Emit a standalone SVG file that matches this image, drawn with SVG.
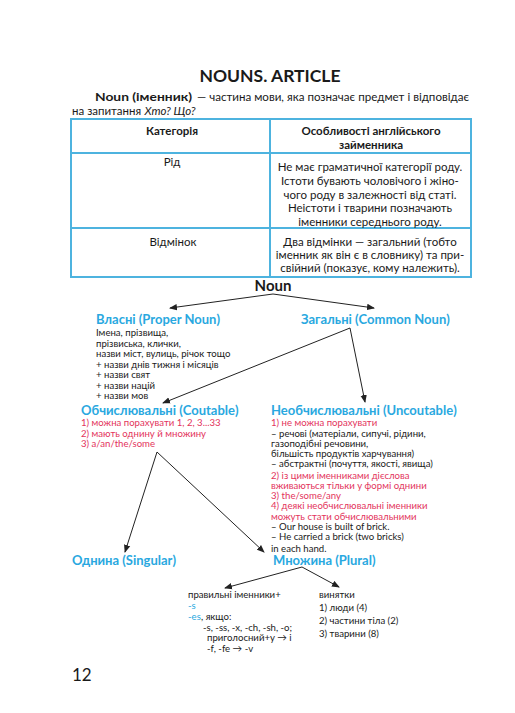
<svg xmlns="http://www.w3.org/2000/svg" width="515" height="713" viewBox="0 0 515 713">
<defs>
<marker id="ah" markerWidth="8" markerHeight="8" refX="7" refY="4" orient="auto" markerUnits="userSpaceOnUse">
<path d="M0,0.8 L8,4 L0,7.2 Z" fill="#222"/>
</marker>
<style>
text{font-family:Lato,"Open Sans","Noto Sans",sans-serif;fill:#1a1a1a}
.title{font-size:17.5px;font-weight:bold}
.b{font-weight:bold}
.p{font-size:11.5px}
.tb{font-size:11.5px}
.th{font-size:11.5px;font-weight:bold}
.hd{font-size:13px;font-weight:bold;fill:#29a8e0}
.s{font-size:9.6px}
.r{fill:#e3345c}
.bl{fill:#29a8e0}
.c{text-anchor:middle}
.cell{fill:none;stroke:#4db3df;stroke-width:2}
.con{stroke:#222;stroke-width:1;fill:none;marker-end:url(#ah)}
</style>
</defs>
<rect width="515" height="713" fill="#fff"/>
<g id="header">
<text class="title c" x="270" y="82">NOUNS. ARTICLE</text>
<text class="p b" x="95" y="100.5" font-size="12.5" textLength="97" lengthAdjust="spacingAndGlyphs">Noun (іменник)</text>
<text class="p" x="197" y="100.5" textLength="272" lengthAdjust="spacingAndGlyphs">— частина мови, яка позначає предмет і відповідає</text>
<text class="p" x="72" y="114.5">на запитання</text>
<text class="p" x="144.5" y="114.5" font-style="italic">Хто? Що?</text>
</g>
<g id="table">
<rect class="cell" x="71" y="119" width="400" height="158"/>
<line class="cell" x1="71" y1="153" x2="471" y2="153"/>
<line class="cell" x1="71" y1="228" x2="471" y2="228"/>
<line class="cell" x1="270" y1="119" x2="270" y2="277"/>
<text class="th c" x="172" y="135">Категорія</text>
<text class="th c" x="371" y="135">Особливості англійського</text>
<text class="th c" x="371" y="149">займенника</text>
<text class="tb c" x="172" y="166">Рід</text>
<text class="tb c" x="370" y="171">Не має граматичної категорії роду.</text>
<text class="tb c" x="370" y="185">Істоти бувають чоловічого і жіно-</text>
<text class="tb c" x="370" y="199">чого роду в залежності від статі.</text>
<text class="tb c" x="370" y="212">Неістоти і тварини позначають</text>
<text class="tb c" x="370" y="226">іменники середнього роду.</text>
<text class="tb c" x="173" y="246">Відмінок</text>
<text class="tb c" x="370" y="246">Два відмінки — загальний (тобто</text>
<text class="tb c" x="370" y="259">іменник як він є в словнику) та при-</text>
<text class="tb c" x="370" y="272">свійний (показує, кому належить).</text>
</g>
<g id="connectors">
<line class="con" x1="273" y1="294" x2="170" y2="308"/>
<line class="con" x1="273" y1="294" x2="374" y2="308"/>
<line class="con" x1="350" y1="328" x2="163" y2="403"/>
<line class="con" x1="350" y1="328" x2="365" y2="402"/>
<line class="con" x1="157" y1="452" x2="125" y2="552"/>
<line class="con" x1="157" y1="452" x2="264" y2="552"/>
<line class="con" x1="302" y1="567" x2="225" y2="588"/>
<line class="con" x1="302" y1="567" x2="339" y2="587"/>
</g>
<g id="noun">
<text class="c" x="273" y="291" font-size="15" font-weight="bold">Noun</text>
</g>
<g id="proper">
<text class="hd" x="96" y="324">Власні (Proper Noun)</text>
<text class="s" x="96" y="336">Імена, прізвища,</text>
<text class="s" x="96" y="346.5">прізвиська, клички,</text>
<text class="s" x="96" y="357">назви міст, вулиць, річок тощо</text>
<text class="s" x="96" y="367.5">+ назви днів тижня і місяців</text>
<text class="s" x="96" y="378">+ назви свят</text>
<text class="s" x="96" y="388.5">+ назви націй</text>
<text class="s" x="96" y="399">+ назви мов</text>
</g>
<g id="common">
<text class="hd" x="301" y="324">Загальні (Common Noun)</text>
</g>
<g id="countable">
<text class="hd" x="81" y="415">Обчислювальні (Coutable)</text>
<text class="s r" x="81" y="426">1) можна порахувати 1, 2, 3...33</text>
<text class="s r" x="81" y="436.5">2) мають однину й множину</text>
<text class="s r" x="81" y="447">3) a/an/the/some</text>
</g>
<g id="uncountable">
<text class="hd" x="271" y="415">Необчислювальні (Uncoutable)</text>
<text class="s r" x="271" y="425.5">1) не можна порахувати</text>
<text class="s" x="271" y="436.5">– речові (матеріали, сипучі, рідини,</text>
<text class="s" x="271" y="447">газоподібні речовини,</text>
<text class="s" x="271" y="457">більшість продуктів харчування)</text>
<text class="s" x="271" y="467">– абстрактні (почуття, якості, явища)</text>
<text class="s r" x="271" y="478.5">2) із цими іменниками дієслова</text>
<text class="s r" x="271" y="488.5">вживаються тільки у формі однини</text>
<text class="s r" x="271" y="498.5">3) the/some/any</text>
<text class="s r" x="271" y="509">4) деякі необчислювальні іменники</text>
<text class="s r" x="271" y="520">можуть стати обчислювальними</text>
<text class="s" x="271" y="530">– Our house is built of brick.</text>
<text class="s" x="271" y="540">– He carried a brick (two bricks)</text>
<text class="s" x="271" y="551.5">in each hand.</text>
</g>
<g id="singular">
<text class="hd" x="72" y="565">Однина (Singular)</text>
</g>
<g id="plural">
<text class="hd" x="273" y="565">Множина (Plural)</text>
</g>
<g id="regular">
<text class="s" x="188" y="598">правильні іменники+</text>
<text class="s bl" x="188" y="609">-s</text>
<text class="s bl" x="188" y="620">-es</text>
<text class="s" x="201" y="620">, якщо:</text>
<text class="s" x="203" y="630.5">-s, -ss, -x, -ch, -sh, -o;</text>
<text class="s" x="207" y="641">приголосний+y → i</text>
<text class="s" x="207" y="651.5">-f, -fe → -v</text>
</g>
<g id="exceptions">
<text class="s" x="319" y="598">винятки</text>
<text class="s" x="319" y="611">1) люди (4)</text>
<text class="s" x="319" y="624">2) частини тіла (2)</text>
<text class="s" x="319" y="637">3) тварини (8)</text>
</g>
<g id="page">
<text x="72" y="681" font-size="17">12</text>
</g>
</svg>
